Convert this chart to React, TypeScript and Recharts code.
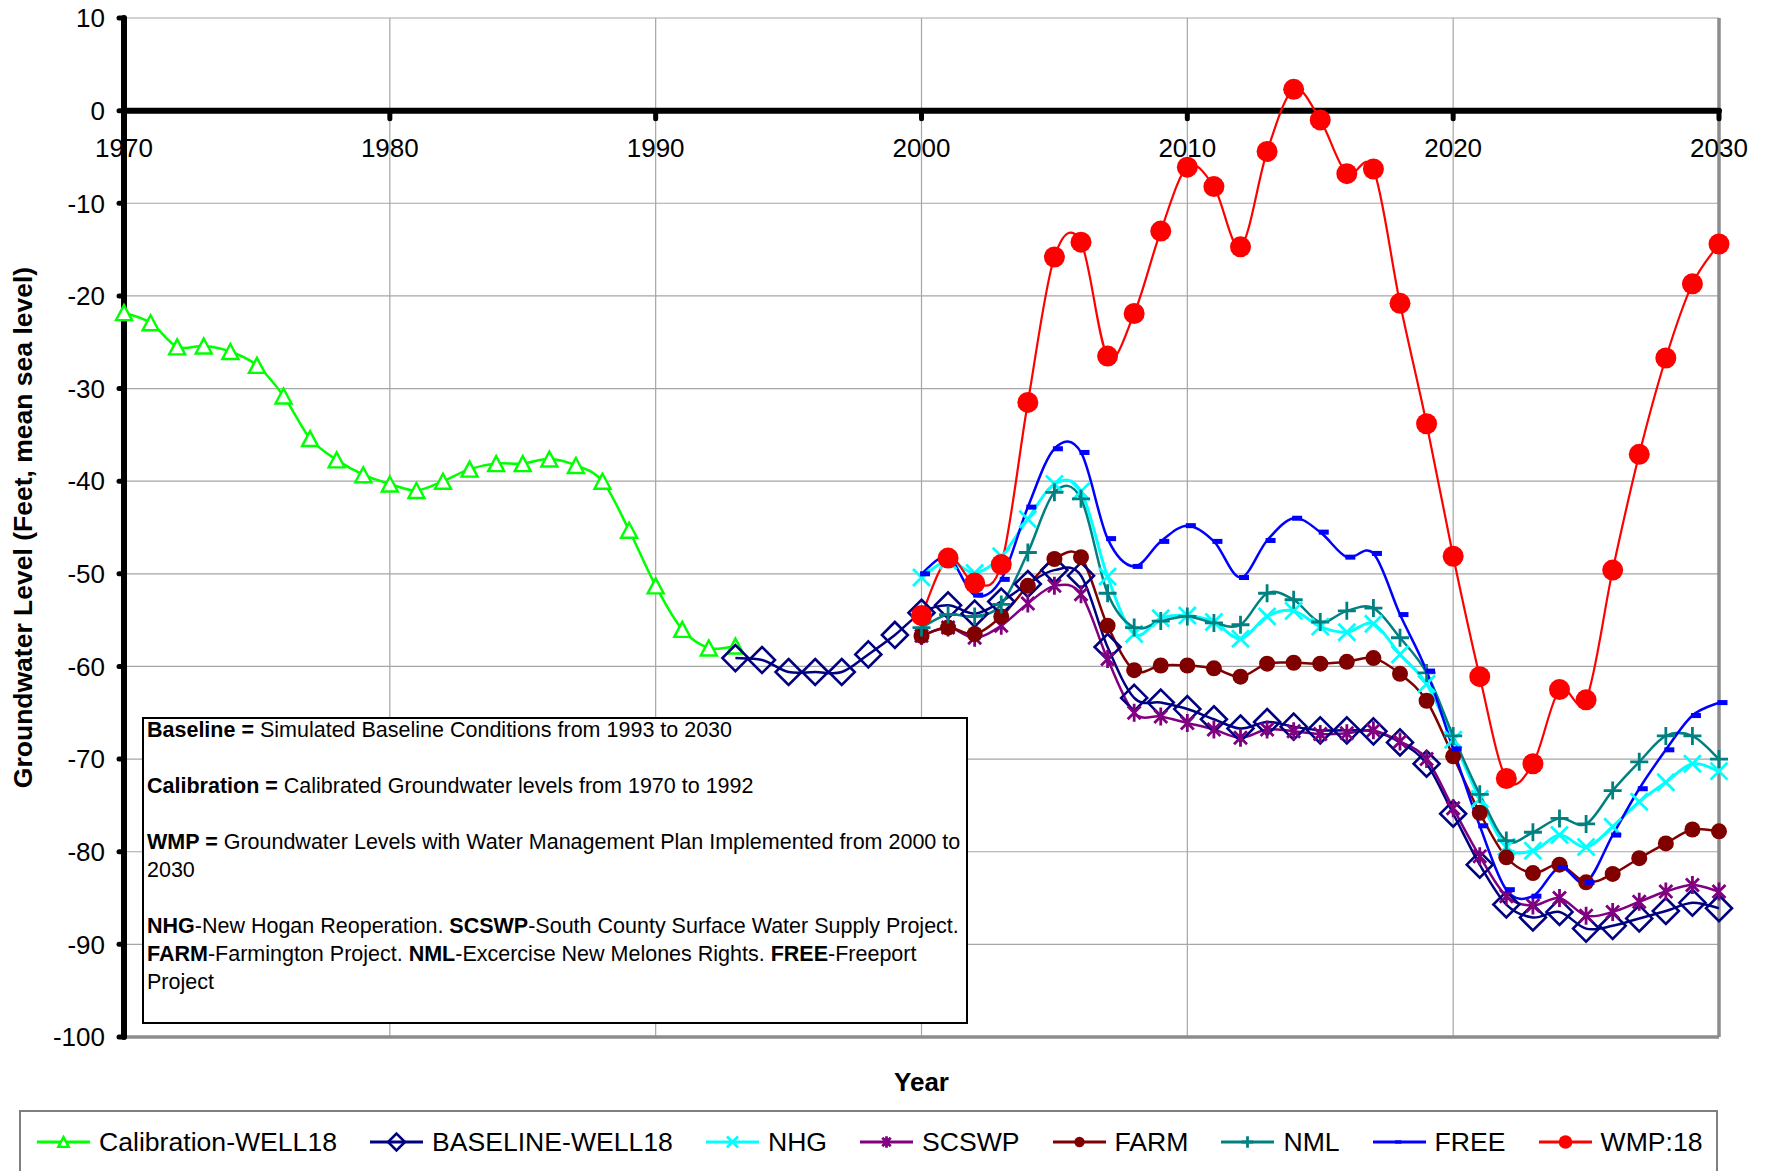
import React from "react";
import {
  LineChart,
  Line,
  XAxis,
  YAxis,
  CartesianGrid,
  ReferenceLine,
  Label,
} from "recharts";

// Groundwater level at WELL18, feet relative to mean sea level
const CALIBRATION_START = 1970;
const calibration = [
  -21.8, -22.9, -25.5, -25.4, -26.0, -27.5, -30.8, -35.4, -37.7, -39.3, -40.3, -41.0,
  -40.0, -38.7, -38.1, -38.1, -37.6, -38.3, -40.0, -45.3, -51.3, -56.0, -58.0, -57.8,
];

const BASELINE_START = 1993;
const baseline = [
  -59.1, -59.3, -60.6, -60.6, -60.6, -58.7, -56.6, -54.2, -53.4, -54.3, -53.0, -51.1,
  -49.6, -50.2, -57.9, -63.4, -63.9, -64.6, -65.7, -66.7, -66.0, -66.5, -66.9, -66.9,
  -67.0, -68.2, -70.5, -75.9, -81.4, -85.7, -87.1, -86.5, -88.3, -88.0, -87.2, -86.4,
  -85.5, -86.1,
];

// project scenarios, 2000 through 2030
const SCENARIO_START = 2000;
const nhg = [
  -50.4, -48.6, -49.9, -48.1, -44.1, -40.3, -41.1, -50.3, -56.5, -54.8, -54.5, -55.2,
  -57.0, -54.6, -54.0, -55.7, -56.3, -55.4, -58.7, -61.9, -67.9, -74.3, -79.5, -79.9,
  -78.2, -79.5, -77.3, -74.6, -72.5, -70.5, -71.3,
];
const scswp = [
  -56.7, -55.8, -56.9, -55.6, -53.2, -51.3, -52.2, -59.2, -65.0, -65.4, -66.1, -66.8,
  -67.7, -66.8, -67.0, -67.3, -67.2, -66.9, -68.1, -70.0, -75.3, -80.5, -84.8, -85.8,
  -85.0, -86.9, -86.5, -85.4, -84.3, -83.6, -84.3,
];
const farm = [
  -56.7, -55.8, -56.5, -54.6, -51.3, -48.4, -48.2, -55.6, -60.4, -59.9, -59.9, -60.2,
  -61.1, -59.7, -59.6, -59.7, -59.5, -59.1, -60.8, -63.7, -69.7, -75.8, -80.6, -82.3,
  -81.4, -83.3, -82.4, -80.7, -79.1, -77.6, -77.8,
];
const nml = [
  -55.8, -54.4, -54.6, -53.3, -47.7, -41.2, -41.9, -52.1, -55.8, -55.1, -54.6, -55.3,
  -55.5, -52.1, -52.8, -55.2, -54.0, -53.7, -56.9, -60.7, -67.5, -73.8, -78.8, -77.9,
  -76.4, -77.0, -73.4, -70.3, -67.5, -67.5, -70.0,
];
const free = [
  -50.0, -48.2, -52.3, -50.6, -42.8, -36.5, -36.9, -46.2, -49.2, -46.5, -44.8, -46.5,
  -50.4, -46.4, -44.0, -45.5, -48.2, -47.8, -54.4, -60.5, -68.9, -77.2, -84.1, -84.8,
  -81.7, -83.3, -78.2, -73.2, -69.0, -65.3, -63.9,
];
const wmp = [
  -54.5, -48.3, -51.0, -49.0, -31.5, -15.8, -14.2, -26.5, -21.9, -13.0, -6.1, -8.2,
  -14.7, -4.4, 2.3, -1.0, -6.8, -6.3, -20.8, -33.8, -48.1, -61.1, -72.1, -70.5,
  -62.5, -63.6, -49.6, -37.1, -26.7, -18.7, -14.4,
];

const yearTicks = [1970, 1980, 1990, 2000, 2010, 2020, 2030];
const levelTicks = [10, 0, -10, -20, -30, -40, -50, -60, -70, -80, -90, -100];

type MarkerKind = "triangle" | "diamond" | "x" | "star" | "dot" | "plus" | "dash" | "bigdot";

interface SeriesDef {
  key: string;
  name: string;
  color: string;
  width: number;
  marker: MarkerKind;
  start: number;
  values: number[];
}

const SERIES: SeriesDef[] = [
  { key: "calibration", name: "Calibration-WELL18", color: "#00ff00", width: 2.5, marker: "triangle", start: CALIBRATION_START, values: calibration },
  { key: "baseline", name: "BASELINE-WELL18", color: "#000080", width: 2.5, marker: "diamond", start: BASELINE_START, values: baseline },
  { key: "nhg", name: "NHG", color: "#00ffff", width: 3, marker: "x", start: SCENARIO_START, values: nhg },
  { key: "scswp", name: "SCSWP", color: "#800080", width: 2.5, marker: "star", start: SCENARIO_START, values: scswp },
  { key: "farm", name: "FARM", color: "#800000", width: 2.5, marker: "dot", start: SCENARIO_START, values: farm },
  { key: "nml", name: "NML", color: "#008080", width: 2.5, marker: "plus", start: SCENARIO_START, values: nml },
  { key: "free", name: "FREE", color: "#0000ff", width: 2.5, marker: "dash", start: SCENARIO_START, values: free },
  { key: "wmp", name: "WMP:18", color: "#ff0000", width: 2.2, marker: "bigdot", start: SCENARIO_START, values: wmp },
];

// one row per year, each series filled only over its own span
type Row = { year: number } & Record<string, number | null>;
const rows: Row[] = [];
for (let y = yearTicks[0]; y <= yearTicks[yearTicks.length - 1]; y++) {
  const row = { year: y } as Row;
  SERIES.forEach((s) => {
    const v = s.values[y - s.start];
    row[s.key] = v === undefined ? null : v;
  });
  rows.push(row);
}

const FONT = '"Liberation Sans", Arial, Helvetica, sans-serif';

const CHART_W = 1767;
const CHART_H = 1171;
const MARGIN = { top: 18, right: 48, left: 8, bottom: 104 };
const Y_AXIS_W = 116;
const X_AXIS_H = 30;
const Y_MIN = -100;
const Y_MAX = 10;
const PLOT_H = CHART_H - MARGIN.top - MARGIN.bottom - X_AXIS_H;
// the year axis crosses at level 0
const ZERO_Y = MARGIN.top + (PLOT_H * Y_MAX) / (Y_MAX - Y_MIN);

// Excel-style smoothed line (uniform Catmull-Rom as cubic Beziers)
const smoothCurve = (context: any) => {
  let pts: [number, number][] = [];
  return {
    areaStart() {},
    areaEnd() {},
    lineStart() {
      pts = [];
    },
    point(x: number, y: number) {
      pts.push([+x, +y]);
    },
    lineEnd() {
      if (!pts.length) return;
      context.moveTo(pts[0][0], pts[0][1]);
      for (let i = 0; i < pts.length - 1; i++) {
        const p0 = pts[i - 1] || pts[i];
        const p1 = pts[i];
        const p2 = pts[i + 1];
        const p3 = pts[i + 2] || p2;
        context.bezierCurveTo(
          p1[0] + (p2[0] - p0[0]) / 6,
          p1[1] + (p2[1] - p0[1]) / 6,
          p2[0] - (p3[0] - p1[0]) / 6,
          p2[1] - (p3[1] - p1[1]) / 6,
          p2[0],
          p2[1]
        );
      }
    },
  };
};

function Marker({ kind, cx, cy, color, scale = 1 }: { kind: MarkerKind; cx: number; cy: number; color: string; scale?: number }) {
  const s = scale;
  switch (kind) {
    case "triangle": {
      const w = 8 * s;
      const h = 7.5 * s;
      return (
        <polygon
          points={`${cx},${cy - h} ${cx - w},${cy + h} ${cx + w},${cy + h}`}
          fill="#fff"
          stroke={color}
          strokeWidth={2.4}
        />
      );
    }
    case "diamond": {
      const r = 13 * s;
      return (
        <polygon
          points={`${cx},${cy - r} ${cx + r},${cy} ${cx},${cy + r} ${cx - r},${cy}`}
          fill="none"
          stroke={color}
          strokeWidth={2.6}
        />
      );
    }
    case "x": {
      const r = 8.5 * s;
      return (
        <path d={`M${cx - r},${cy - r}L${cx + r},${cy + r}M${cx - r},${cy + r}L${cx + r},${cy - r}`} stroke={color} strokeWidth={2.8} />
      );
    }
    case "star": {
      const r = 9 * s;
      const d = r * 0.72;
      return (
        <path
          d={`M${cx},${cy - r}L${cx},${cy + r}M${cx - d},${cy - d}L${cx + d},${cy + d}M${cx - d},${cy + d}L${cx + d},${cy - d}`}
          stroke={color}
          strokeWidth={2.8}
        />
      );
    }
    case "plus": {
      const r = 9 * s;
      return <path d={`M${cx - r},${cy}L${cx + r},${cy}M${cx},${cy - r}L${cx},${cy + r}`} stroke={color} strokeWidth={2.8} />;
    }
    case "dot":
      return <circle cx={cx} cy={cy} r={8 * s} fill={color} />;
    case "bigdot":
      return <circle cx={cx} cy={cy} r={10.5 * s} fill={color} />;
    case "dash":
      return <rect x={cx - 1.5 * s} y={cy - 2.5 * s} width={10 * s} height={5 * s} fill={color} />;
  }
  return null;
}

function renderDot(s: SeriesDef) {
  return (props: any) => {
    const key = `${s.key}-${props.index}`;
    if (props.value == null || props.cy == null || Number.isNaN(props.cy)) return <g key={key} />;
    return (
      <g key={key}>
        <Marker kind={s.marker} cx={props.cx} cy={props.cy} color={s.color} />
      </g>
    );
  };
}

function YearTick({ x, payload }: any) {
  return (
    <g>
      <line x1={x} x2={x} y1={ZERO_Y} y2={ZERO_Y + 8} stroke="#000" strokeWidth={5} strokeLinecap="round" />
      <text x={x} y={ZERO_Y + 37} textAnchor="middle" dominantBaseline="central" fontSize={26} fontFamily={FONT} fill="#000">
        {payload.value}
      </text>
    </g>
  );
}

function LevelTitle({ viewBox }: any) {
  const x = viewBox.x + 14.5;
  const y = viewBox.y + viewBox.height / 2;
  return (
    <text
      x={x}
      y={y}
      transform={`rotate(-90 ${x} ${y})`}
      textAnchor="middle"
      dominantBaseline="central"
      fontSize={26.5}
      fontWeight="bold"
      fontFamily={FONT}
      fill="#000"
    >
      Groundwater Level (Feet, mean sea level)
    </text>
  );
}

function YearTitle({ viewBox }: any) {
  return (
    <text
      x={viewBox.x + viewBox.width / 2}
      y={viewBox.y + 45}
      textAnchor="middle"
      dominantBaseline="central"
      fontSize={26}
      fontWeight="bold"
      fontFamily={FONT}
      fill="#000"
    >
      Year
    </text>
  );
}

function Notes() {
  return (
    <div
      style={{
        position: "absolute",
        left: 142,
        top: 717,
        width: 826,
        height: 307,
        boxSizing: "border-box",
        border: "2px solid #000",
        background: "#fff",
        padding: "0 3px",
        fontFamily: FONT,
        fontSize: 21.5,
        lineHeight: "28px",
        whiteSpace: "nowrap",
        color: "#000",
      }}
    >
      <div style={{ marginTop: -3 }}>
        <b>Baseline =</b> Simulated Baseline Conditions from 1993 to 2030
        <br />
        <br />
        <b>Calibration =</b> Calibrated Groundwater levels from 1970 to 1992
        <br />
        <br />
        <b>WMP =</b> Groundwater Levels with Water Management Plan Implemented from 2000 to
        <br />
        2030
        <br />
        <br />
        <b>NHG</b>-New Hogan Reoperation. <b>SCSWP</b>-South County Surface Water Supply Project.
        <br />
        <b>FARM</b>-Farmington Project. <b>NML</b>-Excercise New Melones Rights. <b>FREE</b>-Freeport
        <br />
        Project
      </div>
    </div>
  );
}

function LegendBox() {
  return (
    <div
      style={{
        position: "absolute",
        left: 19,
        top: 1110,
        width: 1699,
        height: 100,
        boxSizing: "border-box",
        border: "2px solid #7f7f7f",
        background: "#fff",
      }}
    >
      <div
        style={{
          position: "absolute",
          left: 16,
          top: 0,
          height: 60,
          display: "flex",
          alignItems: "center",
          gap: 33,
          fontFamily: FONT,
          fontSize: 26.6,
          lineHeight: "30px",
          whiteSpace: "nowrap",
          color: "#000",
        }}
      >
        {SERIES.map((s) => (
          <div key={s.key} style={{ display: "flex", alignItems: "center" }}>
            <svg width={53} height={30} style={{ display: "block", marginRight: 9 }}>
              <line x1={0} x2={53} y1={15} y2={15} stroke={s.color} strokeWidth={3} />
              <Marker kind={s.marker} cx={s.marker === "dash" ? 23 : 26.5} cy={15} color={s.color} scale={0.65} />
            </svg>
            <span>{s.name}</span>
          </div>
        ))}
      </div>
    </div>
  );
}

export default function App() {
  return (
    <div
      style={{
        position: "absolute",
        left: 0,
        top: 0,
        width: CHART_W,
        height: CHART_H,
        overflow: "hidden",
        background: "#fff",
      }}
    >
      <LineChart width={CHART_W} height={CHART_H} data={rows} margin={MARGIN}>
        <CartesianGrid stroke="#a6a6a6" strokeWidth={1.2} />
        <XAxis
          dataKey="year"
          type="number"
          domain={[1970, 2030]}
          ticks={yearTicks}
          height={X_AXIS_H}
          axisLine={false}
          tickLine={false}
          tick={<YearTick />}
          interval={0}
        >
          <Label content={<YearTitle />} />
        </XAxis>
        <YAxis
          type="number"
          domain={[Y_MIN, Y_MAX]}
          ticks={levelTicks}
          width={Y_AXIS_W}
          interval={0}
          axisLine={{ stroke: "#000", strokeWidth: 6, strokeLinecap: "round" }}
          tickLine={{ stroke: "#000", strokeWidth: 5, strokeLinecap: "round" }}
          tickSize={5}
          tickMargin={14}
          tick={{ fontSize: 26, fontFamily: FONT, fill: "#000" }}
        >
          <Label content={<LevelTitle />} />
        </YAxis>
        <ReferenceLine x={2030} stroke="#8c8c8c" strokeWidth={3.5} />
        <ReferenceLine y={Y_MIN} stroke="#8c8c8c" strokeWidth={3.5} />
        <ReferenceLine y={0} stroke="#000" strokeWidth={6} strokeLinecap="round" />
        {SERIES.map((s) => (
          <Line
            key={s.key}
            dataKey={s.key}
            name={s.name}
            type={smoothCurve as any}
            stroke={s.color}
            strokeWidth={s.width}
            dot={renderDot(s)}
            activeDot={false}
            isAnimationActive={false}
          />
        ))}
      </LineChart>
      <Notes />
      <LegendBox />
    </div>
  );
}
